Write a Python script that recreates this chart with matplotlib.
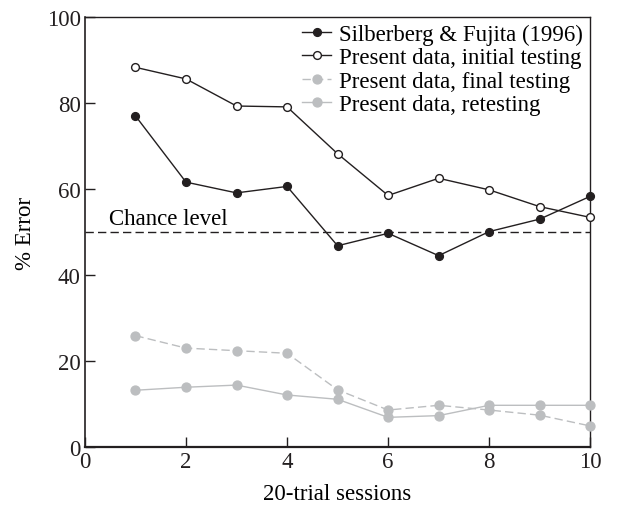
import matplotlib
matplotlib.use("Agg")
import matplotlib.pyplot as plt

sessions = [1, 2, 3, 4, 5, 6, 7, 8, 9, 10]
silberberg = [77.0, 61.6, 59.1, 60.6, 46.8, 49.7, 44.5, 50.1, 53.0, 58.3]
initial = [88.3, 85.6, 79.3, 79.1, 68.2, 58.5, 62.5, 59.8, 55.9, 53.4]
final = [25.9, 23.0, 22.4, 21.8, 13.3, 8.6, 9.7, 8.6, 7.4, 4.9]
retest = [13.2, 13.9, 14.4, 12.1, 11.1, 6.9, 7.3, 9.7, 9.7, 9.7]
chance = 50
labels = ["Silberberg & Fujita (1996)", "Present data, initial testing",
          "Present data, final testing", "Present data, retesting"]

plt.rcParams['font.family'] = ['Liberation Serif', 'DejaVu Serif']
FS = 16.5
fig = plt.figure(figsize=(6.2, 5.06), dpi=100)
ax = fig.add_axes([0.137, 0.1146, 0.815, 0.8498])
gray = '#bcbec0'
dark = '#231f20'
ax.plot(sessions, silberberg, '-o', color=dark, lw=1.0, ms=5.6,
        mfc=dark, mec=dark, label=labels[0], clip_on=False, zorder=5)
ax.plot(sessions, initial, '-o', color=dark, lw=1.0, ms=5.6, mew=1.0,
        mfc='white', mec=dark, label=labels[1], clip_on=False, zorder=5)
ax.plot(sessions, final, '--o', color=gray, lw=1.0, ms=6.4, dashes=(6, 3),
        mfc=gray, mec=gray, label=labels[2], clip_on=False, zorder=4)
ax.plot(sessions, retest, '-o', color=gray, lw=1.0, ms=6.4,
        mfc=gray, mec=gray, label=labels[3], clip_on=False, zorder=4)
ax.axhline(chance, color=dark, lw=1.0, ls=(0, (6, 3)), zorder=3)
ax.text(0.47, 51.8, "Chance level", fontsize=FS, ha='left', va='baseline')

ax.set_xlim(0, 10)
ax.set_ylim(0, 100)
ax.set_xticks([0, 2, 4, 6, 8, 10])
ax.set_yticks([0, 20, 40, 60, 80, 100])
ax.tick_params(direction='in', length=7.5, width=1, labelsize=FS, pad=3,
               colors=dark)
for s in ax.spines.values():
    s.set_linewidth(1.0)
    s.set_color(dark)
ax.spines['bottom'].set_linewidth(1.6)
ax.spines['left'].set_linewidth(1.2)
ax.set_xlabel("20-trial sessions", fontsize=FS, labelpad=8)
ax.set_ylabel("% Error", fontsize=FS, labelpad=8)
leg = ax.legend(loc='upper right', frameon=False, fontsize=FS, handlelength=1.3,
                handletextpad=0.35, labelspacing=0.1, borderaxespad=0.0,
                borderpad=0.3)
fig.savefig("out.png", dpi=100)
